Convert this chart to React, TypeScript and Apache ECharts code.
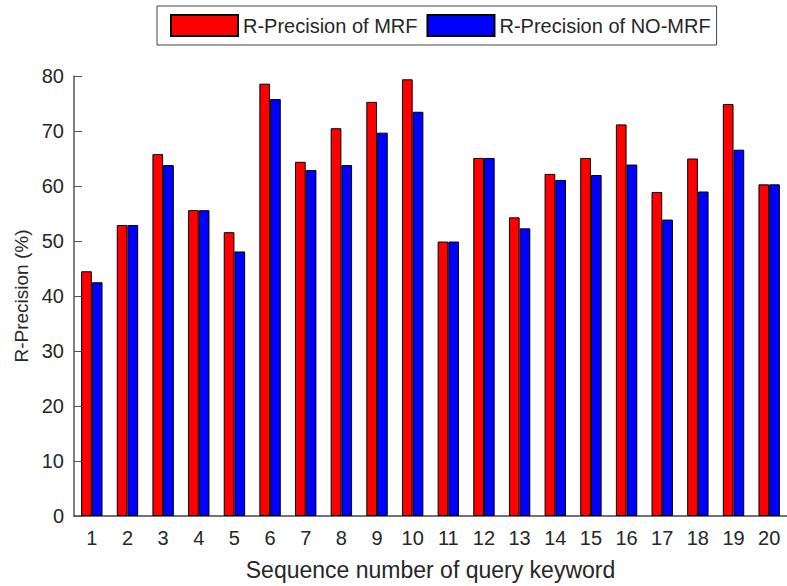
import React, { useEffect, useRef } from "react";
import * as echarts from "echarts";

const categories = ["1","2","3","4","5","6","7","8","9","10","11","12","13","14","15","16","17","18","19","20"];
const mrf = [44.5, 52.9, 65.8, 55.6, 51.6, 78.6, 64.4, 70.5, 75.3, 79.4, 49.9, 65.1, 54.3, 62.2, 65.1, 71.2, 58.9, 65.0, 74.9, 60.3];
const noMrf = [42.5, 52.9, 63.8, 55.6, 48.1, 75.8, 62.9, 63.8, 69.7, 73.5, 49.9, 65.1, 52.3, 61.1, 62.0, 63.9, 53.9, 59.0, 66.6, 60.3];
const seriesNames = ["R-Precision of MRF", "R-Precision of NO-MRF"];
const yTicks = { min: 0, max: 80, interval: 10 };

const FONT = "'Liberation Sans', Arial, Helvetica, sans-serif";
const TXT = "#262626";

export default function App() {
  const ref = useRef<HTMLDivElement>(null);
  useEffect(() => {
    if (!ref.current) return;
    const chart = echarts.init(ref.current, undefined, { renderer: "svg" });
    chart.setOption({
      animation: false,
      backgroundColor: "#ffffff",
      textStyle: { fontFamily: FONT },
      legend: {
        left: 157,
        top: 6,
        padding: [8, 6, 8, 13],
        itemGap: 9,
        itemWidth: 67,
        itemHeight: 21,
        icon: "rect",
        borderColor: "#444",
        borderWidth: 1,
        textStyle: { fontFamily: FONT, fontSize: 20, color: TXT },
        data: seriesNames,
      },
      grid: { left: 74, top: 76, bottom: 67, right: -7, containLabel: false },
      xAxis: {
        type: "category",
        data: categories,
        name: "Sequence number of query keyword",
        nameLocation: "middle",
        nameGap: 42,
        nameTextStyle: { fontFamily: FONT, fontSize: 23, color: TXT },
        axisLine: { lineStyle: { color: "#444", width: 1.5 } },
        axisTick: { show: false },
        axisLabel: { fontFamily: FONT, fontSize: 20, color: TXT, margin: 12 },
      },
      yAxis: {
        type: "value",
        min: yTicks.min,
        max: yTicks.max,
        interval: yTicks.interval,
        name: "R-Precision (%)",
        nameLocation: "middle",
        nameGap: 39,
        nameTextStyle: { fontFamily: FONT, fontSize: 19, color: TXT },
        axisLine: { show: true, lineStyle: { color: "#555", width: 1.5 } },
        axisTick: { show: true, inside: true, length: 8, lineStyle: { color: "#555" } },
        axisLabel: { fontFamily: FONT, fontSize: 20, color: TXT, margin: 10 },
        splitLine: { show: false },
      },
      series: [
        {
          name: seriesNames[0],
          type: "bar",
          data: mrf,
          barGap: "0%",
          barCategoryGap: "40%",
          itemStyle: { color: "#ff0000", borderColor: "#000", borderWidth: 1 },
        },
        {
          name: seriesNames[1],
          type: "bar",
          data: noMrf,
          barGap: "0%",
          barCategoryGap: "40%",
          itemStyle: { color: "#0000ff", borderColor: "#000", borderWidth: 1 },
        },
      ],
    });
    return () => chart.dispose();
  }, []);
  return (
    <div
      ref={ref}
      style={{ position: "fixed", left: 0, top: 0, width: 787, height: 586, background: "#fff" }}
    />
  );
}
